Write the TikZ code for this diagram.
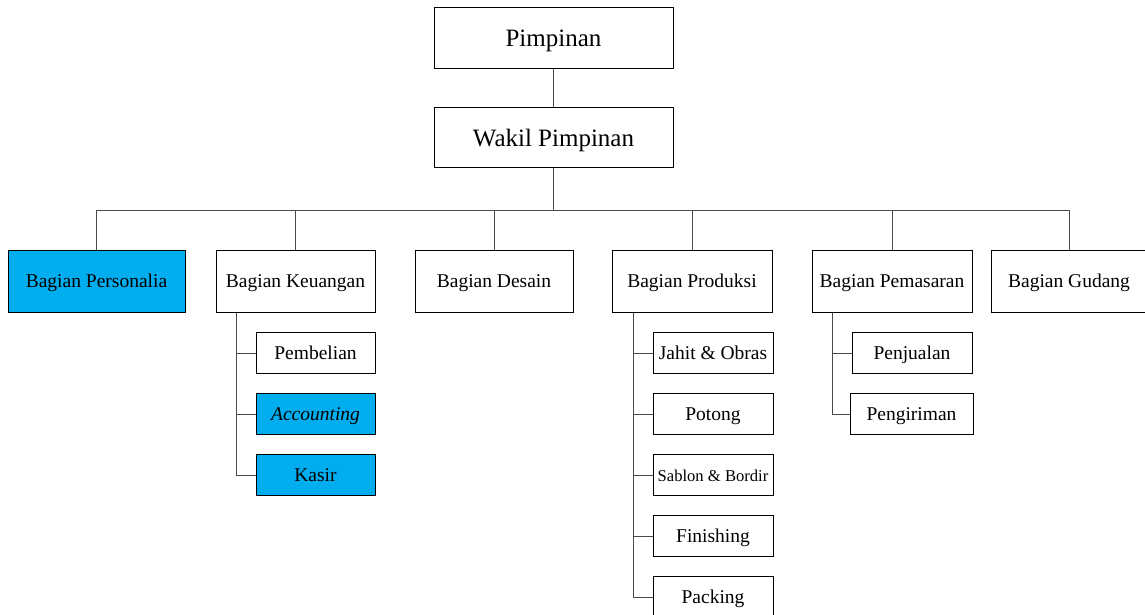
\documentclass[tikz,border=0pt]{standalone}
\usepackage{fontspec}
\setmainfont{Liberation Serif}
\definecolor{cyanfill}{HTML}{00AEEF}
\definecolor{linkgray}{HTML}{4A4A4A}
\begin{document}
\begin{tikzpicture}[x=1pt,y=-1pt,
  box/.style={draw=black, line width=1pt, fill=white, inner sep=0pt, rectangle, font=\fontsize{19.5}{22}\selectfont, text height=13.5pt, text depth=0pt},
  topbox/.style={box, font=\fontsize{25}{28}\selectfont, minimum width=239pt, text height=18.5pt},
  mainbox/.style={box, minimum height=62pt},
  subbox/.style={box, minimum height=41pt},
  blue/.style={fill=cyanfill},
  link/.style={draw=linkgray, line width=1pt}]
\useasboundingbox (0,0) rectangle (1145,614);
% top
\node[topbox, minimum height=61pt] (pim) at (553.5,37.5) {Pimpinan};
\node[topbox, minimum height=60pt] (wak) at (553.5,137) {Wakil Pimpinan};
% level 2
\node[mainbox, blue, minimum width=177pt] (pers) at (96.5,281) {Bagian Personalia};
\node[mainbox, minimum width=159pt] (keu) at (295.5,281) {Bagian Keuangan};
\node[mainbox, minimum width=158pt] (des) at (494,281) {Bagian Desain};
\node[mainbox, minimum width=160pt] (prod) at (692,281) {Bagian Produksi};
\node[mainbox, minimum width=160pt] (pem) at (892,281) {Bagian Pemasaran};
\node[mainbox, minimum width=156pt] (gud) at (1069,281) {Bagian Gudang};
% keuangan subs
\node[subbox, minimum width=119pt] (pemb) at (315.5,353) {Pembelian};
\node[subbox, blue, minimum width=119pt] (acc) at (315.5,414) {\itshape Accounting};
\node[subbox, blue, minimum width=119pt] (kas) at (315.5,475) {Kasir};
% produksi subs
\node[subbox, minimum width=120pt] (jah) at (713,353) {Jahit \& Obras};
\node[subbox, minimum width=120pt] (pot) at (713,414) {Potong};
\node[subbox, minimum width=120pt, font=\fontsize{16.6}{19}\selectfont, text height=12pt] (sab) at (713,475) {Sablon \& Bordir};
\node[subbox, minimum width=120pt] (fin) at (713,536) {Finishing};
\node[subbox, minimum width=120pt] (pac) at (713,597) {Packing};
% pemasaran subs
\node[subbox, minimum width=120pt] (penj) at (912,353) {Penjualan};
\node[subbox, minimum width=123pt] (peng) at (911.5,414) {Pengiriman};
% connectors
\coordinate (bus) at (0,210);
\draw[link] (pim.south) -- (wak.north);
\draw[link] (wak.south) -- (wak.south |- bus);
\draw[link] (pers.north |- bus) -- (gud.north |- bus);
\foreach \n in {pers,keu,des,prod,pem,gud}
  \draw[link] (\n.north) -- (\n.north |- bus);
\coordinate (kx) at (236,0);
\coordinate (px) at (633,0);
\coordinate (mx) at (832,0);
\draw[link] (keu.south -| kx) |- (kas.west);
\draw[link] (kx |- pemb.west) -- (pemb.west);
\draw[link] (kx |- acc.west) -- (acc.west);
\draw[link] (prod.south -| px) |- (pac.west);
\foreach \n in {jah,pot,sab,fin}
  \draw[link] (px |- \n.west) -- (\n.west);
\draw[link] (pem.south -| mx) |- (peng.west);
\draw[link] (mx |- penj.west) -- (penj.west);
\end{tikzpicture}
\end{document}
